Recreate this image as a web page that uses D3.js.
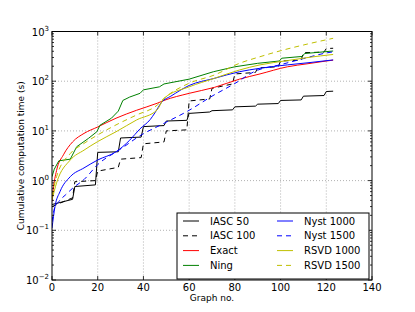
<!DOCTYPE html>
<html>
<head>
<meta charset="utf-8">
<script src="https://cdn.jsdelivr.net/npm/d3@7/dist/d3.min.js"></script>
<style>
  html, body { margin: 0; padding: 0; background: #fff; }
  svg { display: block; font-family: "DejaVu Sans", sans-serif; }
</style>
</head>
<body>
<svg id="chart" width="415" height="312"></svg>
<script>
// graph numbers (x) and cumulative times in seconds (y)
const iasc50G  = [0, 9, 10, 19, 20, 29, 30, 39, 40, 49, 50, 59, 60, 69, 70, 79, 80, 89, 90, 99, 100, 109, 110, 119, 120, 123];
const iasc50V  = [0.33, 0.42, 0.76, 0.82, 3.7, 3.8, 7.2, 7.5, 12.2, 12.8, 15.8, 16.3, 22.5, 24, 25.5, 26.5, 30.5, 31.5, 34.5, 35.5, 41, 42, 50, 51.5, 62, 63];
const iasc100G = [0, 9, 10, 19, 20, 29, 30, 39, 40, 49, 50, 59, 60, 69, 70, 79, 80, 89, 90, 99, 100, 109, 110, 119, 120, 123];
const iasc100V = [0.3, 0.45, 0.95, 1.0, 1.55, 1.85, 2.7, 2.9, 5.5, 6.0, 10.0, 10.5, 40, 44, 72, 88, 140, 150, 185, 195, 255, 265, 375, 385, 455, 460];
const exactG   = [0, 0.5, 2, 5, 9, 14, 20, 28, 37, 46, 49, 60, 71, 82, 91, 103, 112, 120, 123];
const exactV   = [0.38, 0.65, 1.6, 3.3, 6.0, 8.9, 12, 18, 26, 36, 41, 57, 75, 110, 140, 195, 225, 255, 265];
const ningG    = [0, 1, 3, 8, 10.8, 16, 19.6, 21, 26, 29, 31, 34, 38.5, 40, 47, 49, 60, 70.6, 80, 90, 99.5, 100.5, 109.5, 110.5, 123];
const ningV    = [1.2, 1.7, 2.5, 2.7, 4.8, 7.1, 9.6, 13, 18, 25, 41, 48, 57, 67, 77, 88, 110, 155, 195, 229, 255, 290, 315, 360, 405];
const nyst1000G = [0, 1.3, 3.5, 8, 14, 20, 28, 34, 38.5, 43, 45, 48, 52, 60, 71, 82, 91, 103, 112, 123];
const nyst1000V = [0.11, 0.3, 0.6, 1.2, 1.8, 2.6, 3.8, 6.5, 11, 17, 23, 38, 50, 82, 114, 155, 182, 213, 235, 268];
const nyst1500G = [0, 1, 3, 6, 9.3, 14, 20, 30, 40, 45, 50, 60, 70, 80, 89, 100, 110, 120, 123];
const nyst1500V = [0.15, 0.27, 0.38, 0.52, 0.72, 1.05, 2.1, 4.3, 8.8, 11.5, 15, 26, 50, 90, 160, 215, 285, 370, 390];
const rsvd1000G = [0, 2, 8, 14, 20, 28, 37, 46, 49, 60, 71, 82, 91, 103, 112, 123];
const rsvd1000V = [0.41, 0.9, 2.6, 4.1, 6.1, 9.6, 16.6, 26.5, 45, 77, 114, 168, 213, 260, 300, 345];
const rsvd1500G = [0, 2, 8, 14, 20, 28, 37, 46, 49, 60, 71, 82, 91, 100, 110, 123];
const rsvd1500V = [0.5, 1.2, 3.5, 5.6, 8.3, 13.2, 20.9, 33, 45, 91, 133, 229, 311, 410, 535, 730];

const xTicks = [0, 20, 40, 60, 80, 100, 120, 140];
const yExps = [-2, -1, 0, 1, 2, 3];

const series = [
  { name: 'IASC 50',   g: iasc50G,   v: iasc50V,   color: '#000000', dash: null,  smooth: false },
  { name: 'IASC 100',  g: iasc100G,  v: iasc100V,  color: '#000000', dash: '5,4', smooth: false },
  { name: 'Exact',     g: exactG,    v: exactV,    color: '#ff0000', dash: null,  smooth: true },
  { name: 'Ning',      g: ningG,     v: ningV,     color: '#008000', dash: null,  smooth: false },
  { name: 'Nyst 1000', g: nyst1000G, v: nyst1000V, color: '#0000ff', dash: null,  smooth: true },
  { name: 'Nyst 1500', g: nyst1500G, v: nyst1500V, color: '#0000ff', dash: '5,4', smooth: true },
  { name: 'RSVD 1000', g: rsvd1000G, v: rsvd1000V, color: '#bfbf00', dash: null,  smooth: true },
  { name: 'RSVD 1500', g: rsvd1500G, v: rsvd1500V, color: '#bfbf00', dash: '5,4', smooth: true }
];

const svg = d3.select('#chart');
const pLeft = 52, pRight = 372, pTop = 31.5, pBottom = 280;

const x = d3.scaleLinear().domain([0, 140]).range([pLeft, pRight]);
const y = d3.scaleLog().domain([1e-2, 1e3]).range([pBottom, pTop]);

// grid
const grid = svg.append('g').attr('stroke', '#000').attr('stroke-width', 0.5)
  .attr('stroke-dasharray', '1,2').attr('opacity', 0.6);
xTicks.slice(1, -1).forEach((t) => {
  grid.append('line').attr('x1', x(t)).attr('x2', x(t)).attr('y1', pTop).attr('y2', pBottom);
});
yExps.slice(1, -1).forEach((e) => {
  grid.append('line').attr('x1', pLeft).attr('x2', pRight).attr('y1', y(Math.pow(10, e))).attr('y2', y(Math.pow(10, e)));
});

// lines
const clip = svg.append('clipPath').attr('id', 'plotclip');
clip.append('rect').attr('x', pLeft).attr('y', pTop).attr('width', pRight - pLeft).attr('height', pBottom - pTop);
const plot = svg.append('g').attr('clip-path', 'url(#plotclip)');
series.forEach((s) => {
  const pts = s.g.map((g, i) => [g, s.v[i]]);
  const line = d3.line().x((d) => x(d[0])).y((d) => y(d[1]))
    .curve(s.smooth ? d3.curveMonotoneX : d3.curveLinear);
  plot.append('path').attr('d', line(pts)).attr('fill', 'none')
    .attr('stroke', s.color).attr('stroke-width', 1)
    .attr('stroke-dasharray', s.dash);
});

// ticks (inward, all four sides)
const ticks = svg.append('g').attr('stroke', '#000').attr('stroke-width', 0.8);
xTicks.forEach((t) => {
  ticks.append('line').attr('x1', x(t)).attr('x2', x(t)).attr('y1', pBottom).attr('y2', pBottom - 4);
  ticks.append('line').attr('x1', x(t)).attr('x2', x(t)).attr('y1', pTop).attr('y2', pTop + 4);
});
yExps.forEach((e, i) => {
  const base = Math.pow(10, e);
  ticks.append('line').attr('x1', pLeft).attr('x2', pLeft + 4).attr('y1', y(base)).attr('y2', y(base));
  ticks.append('line').attr('x1', pRight).attr('x2', pRight - 4).attr('y1', y(base)).attr('y2', y(base));
  if (i < yExps.length - 1) {
    for (let m = 2; m <= 9; m++) {
      const yy = y(base * m);
      ticks.append('line').attr('x1', pLeft).attr('x2', pLeft + 2).attr('y1', yy).attr('y2', yy);
      ticks.append('line').attr('x1', pRight).attr('x2', pRight - 2).attr('y1', yy).attr('y2', yy);
    }
  }
});

// frame
svg.append('rect').attr('x', pLeft).attr('y', pTop).attr('width', pRight - pLeft).attr('height', pBottom - pTop)
  .attr('fill', 'none').attr('stroke', '#000').attr('stroke-width', 1);

// tick labels
xTicks.forEach((t) => {
  svg.append('text').attr('x', x(t)).attr('y', pBottom + 11).attr('text-anchor', 'middle')
    .attr('font-size', 10).text(t);
});
yExps.forEach((e) => {
  const t = svg.append('text').attr('x', pLeft - 3).attr('y', y(Math.pow(10, e)) + 4)
    .attr('text-anchor', 'end').attr('font-size', 10);
  t.append('tspan').text('10');
  t.append('tspan').attr('font-size', 7).attr('dy', -5).text(String(e).replace('-', '\u2212'));
});

// axis labels
svg.append('text').attr('x', (pLeft + pRight) / 2).attr('y', 301).attr('text-anchor', 'middle')
  .attr('font-size', 9).text('Graph no.');
svg.append('text').attr('transform', `translate(24,${(pTop + pBottom) / 2}) rotate(-90)`)
  .attr('text-anchor', 'middle').attr('font-size', 9).text('Cumulative computation time (s)');

// legend
const lg = svg.append('g');
lg.append('rect').attr('x', 177).attr('y', 213).attr('width', 192).attr('height', 66)
  .attr('fill', '#fff').attr('stroke', '#000').attr('stroke-width', 1);
series.forEach((s, i) => {
  const col = Math.floor(i / 4), row = i % 4;
  const ly = 221 + row * 14.8;
  const lx = col === 0 ? 183 : 277;
  lg.append('line').attr('x1', lx).attr('x2', lx + 16).attr('y1', ly).attr('y2', ly)
    .attr('stroke', s.color).attr('stroke-width', 1).attr('stroke-dasharray', s.dash);
  lg.append('text').attr('x', lx + 27).attr('y', ly + 3.5).attr('font-size', 10).text(s.name);
});
</script>
</body>
</html>
